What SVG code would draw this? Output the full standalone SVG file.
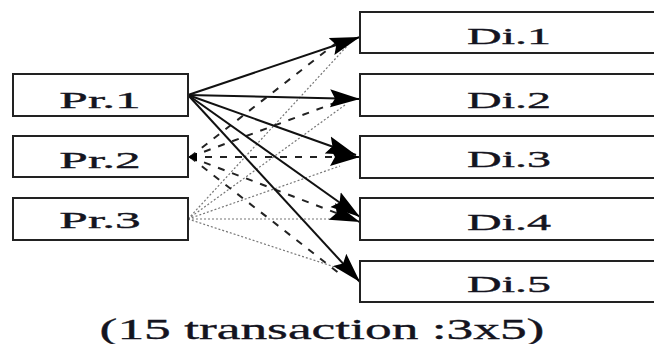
<svg xmlns="http://www.w3.org/2000/svg" width="654" height="344" viewBox="0 0 654 344">
  <style>
    .box { fill: #ffffff; stroke: #222222; stroke-width: 2; }
    .lbl { font-family: "Liberation Serif", "Times New Roman", serif; font-size: 24px; fill: #141420; stroke: #141420; stroke-width: 0.35; text-anchor: middle; }
    .cap { font-family: "Liberation Serif", "Times New Roman", serif; font-size: 30px; fill: #141420; stroke: #141420; stroke-width: 0.35; text-anchor: middle; }
    .solid { stroke: #111111; stroke-width: 2; fill: none; }
    .dash { stroke: #222222; stroke-width: 2; stroke-dasharray: 7 8; fill: none; }
    .dot { stroke: #777777; stroke-width: 1.2; stroke-dasharray: 2 2; fill: none; }
  </style>
  <defs>
    <marker id="head" markerUnits="userSpaceOnUse" markerWidth="30" markerHeight="22" refX="30" refY="11" orient="auto">
      <path d="M0,2 L30,11 L0,20 L5,11 Z" fill="#000000"/>
    </marker>
    <marker id="tail" markerUnits="userSpaceOnUse" markerWidth="9" markerHeight="9" refX="9" refY="4.5" orient="auto">
      <path d="M0,0 L9,4.5 L0,9 Z" fill="#000000"/>
    </marker>
  </defs>

  <!-- connectors -->
  <g id="connectors">
    <!-- Pr.3 dotted -->
    <line class="dot" x1="188" y1="219" x2="348" y2="45"/>
    <line class="dot" x1="188" y1="219" x2="345" y2="105"/>
    <line class="dot" x1="188" y1="219" x2="340" y2="166"/>
    <line class="dot" x1="188" y1="219" x2="345" y2="219"/>
    <line class="dot" x1="188" y1="219" x2="350" y2="272"/>
    <!-- Pr.2 dashed -->
    <line class="dash" x1="190" y1="157" x2="340" y2="40"/>
    <line class="dash" x1="190" y1="157" x2="340" y2="101"/>
    <line class="dash" x1="190" y1="157" x2="360" y2="157" marker-end="url(#head)"/>
    <line class="dash" x1="190" y1="157" x2="360" y2="222" marker-end="url(#head)"/>
    <line class="dash" x1="190" y1="157" x2="340" y2="274"/>
    <line x1="197" y1="157" x2="188" y2="157" stroke="#000" stroke-width="1" marker-end="url(#tail)"/>
    <!-- Pr.1 solid -->
    <line class="solid" x1="188" y1="95" x2="360" y2="37" marker-end="url(#head)"/>
    <line class="solid" x1="188" y1="95" x2="360" y2="99" marker-end="url(#head)"/>
    <line class="solid" x1="188" y1="95" x2="356" y2="155" marker-end="url(#head)"/>
    <line class="solid" x1="188" y1="95" x2="360" y2="217" marker-end="url(#head)"/>
    <line class="solid" x1="188" y1="95" x2="360" y2="282" marker-end="url(#head)"/>
  </g>

  <!-- sources -->
  <g id="pr1">
    <rect class="box" x="13" y="74" width="175" height="42"/>
    <text class="lbl" transform="translate(100,108) scale(2.14,1)">Pr.1</text>
  </g>
  <g id="pr2">
    <rect class="box" x="13" y="136" width="175" height="41"/>
    <text class="lbl" transform="translate(100,168) scale(2.14,1)">Pr.2</text>
  </g>
  <g id="pr3">
    <rect class="box" x="13" y="198" width="175" height="42"/>
    <text class="lbl" transform="translate(100,228) scale(2.14,1)">Pr.3</text>
  </g>

  <!-- destinations -->
  <g id="di1">
    <rect class="box" x="360" y="12" width="310" height="41"/>
    <text class="lbl" transform="translate(509,44) scale(2.0,1)">Di.1</text>
  </g>
  <g id="di2">
    <rect class="box" x="360" y="74" width="310" height="42"/>
    <text class="lbl" transform="translate(509,108) scale(2.0,1)">Di.2</text>
  </g>
  <g id="di3">
    <rect class="box" x="360" y="136" width="310" height="42"/>
    <text class="lbl" transform="translate(509,167) scale(2.0,1)">Di.3</text>
  </g>
  <g id="di4">
    <rect class="box" x="360" y="198" width="310" height="42"/>
    <text class="lbl" transform="translate(509,230) scale(2.0,1)">Di.4</text>
  </g>
  <g id="di5">
    <rect class="box" x="360" y="261" width="310" height="41"/>
    <text class="lbl" transform="translate(509,292) scale(2.0,1)">Di.5</text>
  </g>

  <text class="cap" transform="translate(322,339) scale(1.78,1)">(15 transaction :3x5)</text>
</svg>
